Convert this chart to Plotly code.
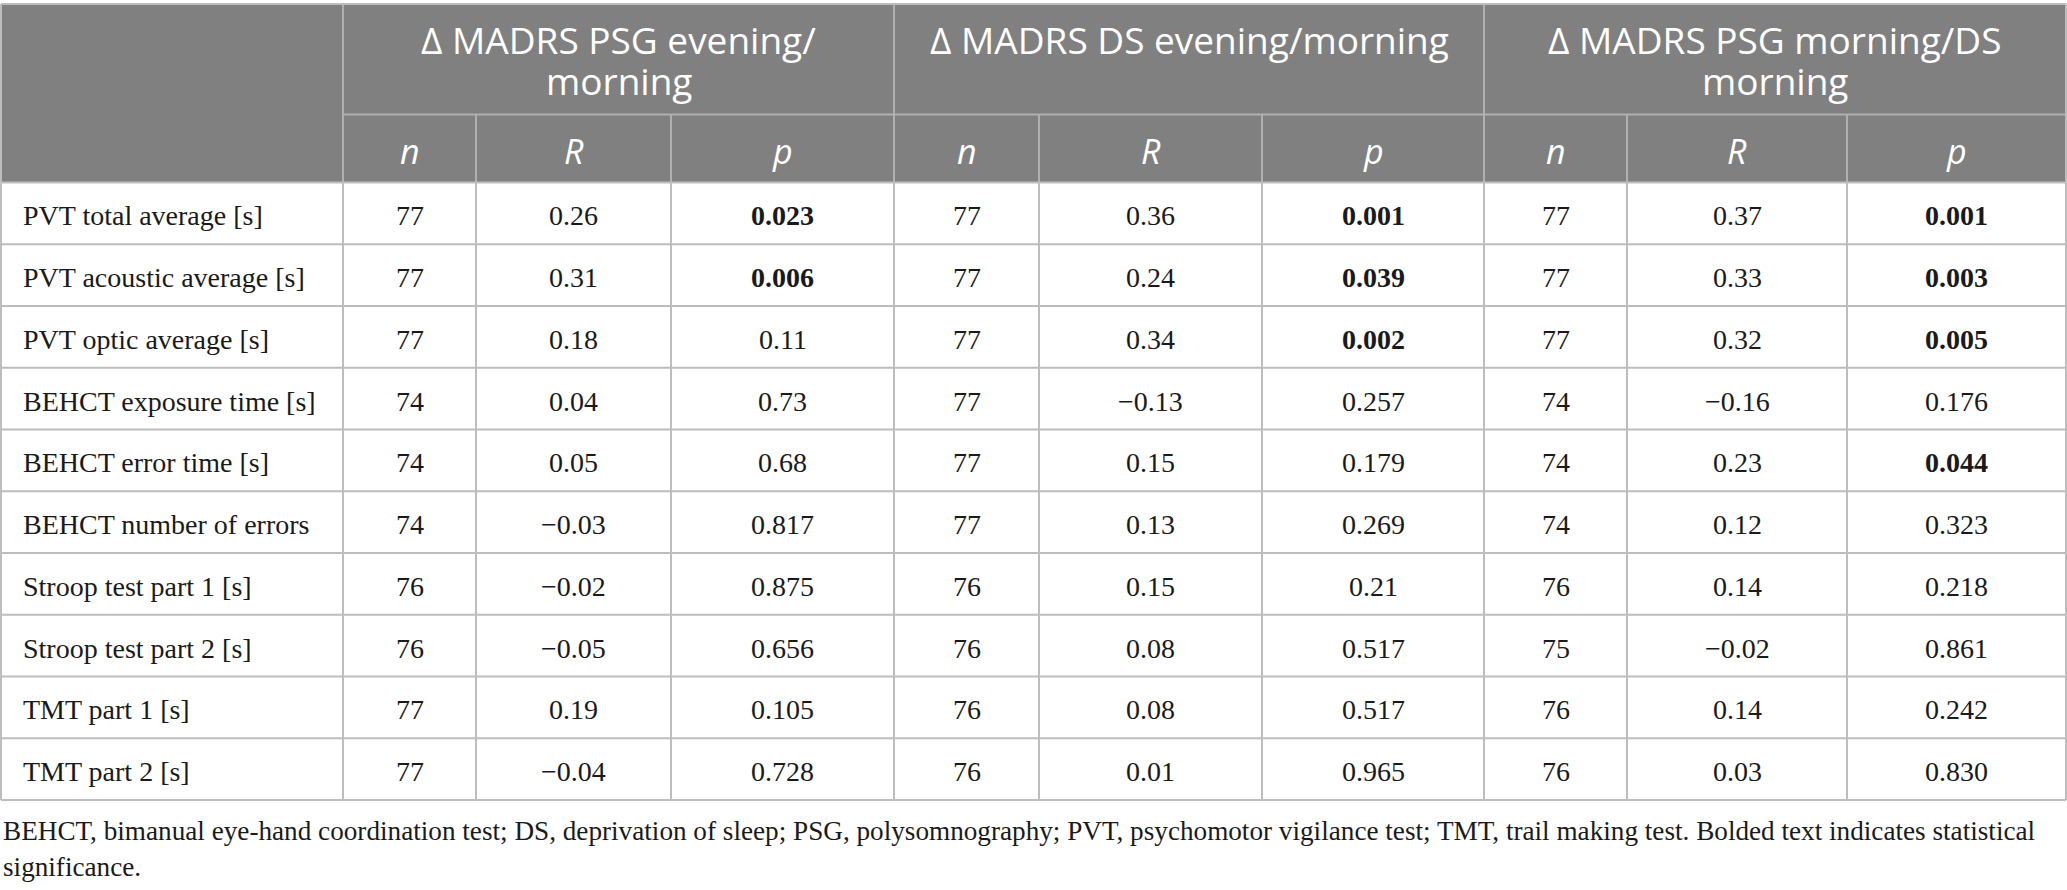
import plotly.graph_objects as go

# ---------------- data ----------------
row_labels = [
    "PVT total average [s]",
    "PVT acoustic average [s]",
    "PVT optic average [s]",
    "BEHCT exposure time [s]",
    "BEHCT error time [s]",
    "BEHCT number of errors",
    "Stroop test part 1 [s]",
    "Stroop test part 2 [s]",
    "TMT part 1 [s]",
    "TMT part 2 [s]",
]
group_titles = [
    ["\u0394 MADRS PSG evening/", "morning"],
    ["\u0394 MADRS DS evening/morning"],
    ["\u0394 MADRS PSG morning/DS", "morning"],
]
sub_headers = ["n", "R", "p"]

n_psg_ev_mo = [77, 77, 77, 74, 74, 74, 76, 76, 77, 77]
r_psg_ev_mo = [0.26, 0.31, 0.18, 0.04, 0.05, -0.03, -0.02, -0.05, 0.19, -0.04]
p_psg_ev_mo = ["0.023", "0.006", "0.11", "0.73", "0.68", "0.817", "0.875", "0.656", "0.105", "0.728"]

n_ds_ev_mo = [77, 77, 77, 77, 77, 77, 76, 76, 76, 76]
r_ds_ev_mo = [0.36, 0.24, 0.34, -0.13, 0.15, 0.13, 0.15, 0.08, 0.08, 0.01]
p_ds_ev_mo = ["0.001", "0.039", "0.002", "0.257", "0.179", "0.269", "0.21", "0.517", "0.517", "0.965"]

n_psg_mo_ds_mo = [77, 77, 77, 74, 74, 74, 76, 75, 76, 76]
r_psg_mo_ds_mo = [0.37, 0.33, 0.32, -0.16, 0.23, 0.12, 0.14, -0.02, 0.14, 0.03]
p_psg_mo_ds_mo = ["0.001", "0.003", "0.005", "0.176", "0.044", "0.323", "0.218", "0.861", "0.242", "0.830"]

footnote_lines = [
    "BEHCT, bimanual eye-hand coordination test; DS, deprivation of sleep; PSG, polysomnography; "
    "PVT, psychomotor vigilance test; TMT, trail making test. Bolded text indicates statistical",
    "significance.",
]
alpha = 0.05

# ---------------- layout constants ----------------
W, H = 2067, 890
col_edges = [1, 343, 476, 671, 894, 1039, 1262, 1484, 1627, 1847, 2066]
y_top, y_h1, y_h2 = 4, 114.5, 182.5
row_h = 61.75
HEAD_BG = "#7f807f"
HEAD_LINE = "#b0b0b0"
BODY_LINE = "#bdbdbd"
SANS = "Open Sans"
SERIF = "Liberation Serif"
TXT = "#1a1a1a"

groups = [
    (n_psg_ev_mo, r_psg_ev_mo, p_psg_ev_mo),
    (n_ds_ev_mo, r_ds_ev_mo, p_ds_ev_mo),
    (n_psg_mo_ds_mo, r_psg_mo_ds_mo, p_psg_mo_ds_mo),
]


def fmt_r(v):
    s = f"{abs(v):.2f}"
    return ("\u2212" + s) if v < 0 else s


shapes = []
ann = []
nrows = len(row_labels)
y_bottom = y_h2 + nrows * row_h

# header background
shapes.append(dict(type="rect", x0=col_edges[0], x1=col_edges[-1], y0=y_top, y1=y_h2,
                   fillcolor=HEAD_BG, line=dict(width=0), layer="below"))


def hline(y, x0, x1, color, w=2):
    shapes.append(dict(type="line", x0=x0, x1=x1, y0=y, y1=y, line=dict(color=color, width=w)))


def vline(x, y0, y1, color, w=2):
    shapes.append(dict(type="line", x0=x, x1=x, y0=y0, y1=y1, line=dict(color=color, width=w)))


# header lines
hline(y_h1, col_edges[1], col_edges[-1], HEAD_LINE)
for i, x in enumerate(col_edges[1:-1], start=1):
    if i in (1, 4, 7):
        vline(x, y_top, y_h2, HEAD_LINE)
    else:
        vline(x, y_h1, y_h2, HEAD_LINE)
# body lines
for r in range(nrows + 1):
    hline(y_h2 + r * row_h, col_edges[0], col_edges[-1], BODY_LINE)
for x in col_edges:
    vline(x, y_h2, y_bottom, BODY_LINE)
# outer top / sides of header
hline(y_top, col_edges[0], col_edges[-1], BODY_LINE)
vline(col_edges[0], y_top, y_h2, BODY_LINE)
vline(col_edges[-1], y_top, y_h2, BODY_LINE)

# header texts
line1_y, line2_y = 39, 80
for g, title in enumerate(group_titles):
    xc = (col_edges[1 + 3 * g] + col_edges[4 + 3 * g]) / 2
    for k, t in enumerate(title):
        ann.append(dict(x=xc, y=line1_y if k == 0 else line2_y, text=t, showarrow=False,
                        xanchor="center", yanchor="middle",
                        font=dict(family=SANS, size=37, color="white")))
    for j, sh in enumerate(sub_headers):
        c = 1 + 3 * g + j
        ann.append(dict(x=(col_edges[c] + col_edges[c + 1]) / 2, y=151, text=f"<i>{sh}</i>",
                        showarrow=False, xanchor="center", yanchor="middle",
                        font=dict(family=SANS, size=34, color="white")))

# body texts
for r, label in enumerate(row_labels):
    yc = y_h2 + (r + 0.5) * row_h + 2.5
    ann.append(dict(x=col_edges[0] + 20, y=yc, text=label, showarrow=False,
                    xanchor="left", yanchor="middle",
                    font=dict(family=SERIF, size=28, color=TXT)))
    for g, (nv, rv, pv) in enumerate(groups):
        vals = [str(nv[r]), fmt_r(rv[r]), pv[r]]
        for j, v in enumerate(vals):
            c = 1 + 3 * g + j
            if j == 2 and float(pv[r]) < alpha:
                v = f"<b>{v}</b>"
            ann.append(dict(x=(col_edges[c] + col_edges[c + 1]) / 2, y=yc, text=v,
                            showarrow=False, xanchor="center", yanchor="middle",
                            font=dict(family=SERIF, size=28, color=TXT)))

# footnote
for k, t in enumerate(footnote_lines):
    ann.append(dict(x=1, y=831 + k * 36, text=t, showarrow=False,
                    xanchor="left", yanchor="middle",
                    font=dict(family=SERIF, size=27.2, color=TXT)))

fig = go.Figure()
fig.add_trace(go.Scatter(x=[0, W], y=[0, H], mode="markers", marker=dict(opacity=0),
                         hoverinfo="skip", showlegend=False))
fig.update_layout(
    width=W, height=H, margin=dict(l=0, r=0, t=0, b=0),
    paper_bgcolor="white", plot_bgcolor="white",
    xaxis=dict(range=[0, W], visible=False, fixedrange=True),
    yaxis=dict(range=[H, 0], visible=False, fixedrange=True),
    shapes=shapes, annotations=ann, showlegend=False,
)
fig.write_html("out.html", config={"displayModeBar": False},
               post_script="document.body.style.margin='0px';document.body.style.overflow='hidden';")
